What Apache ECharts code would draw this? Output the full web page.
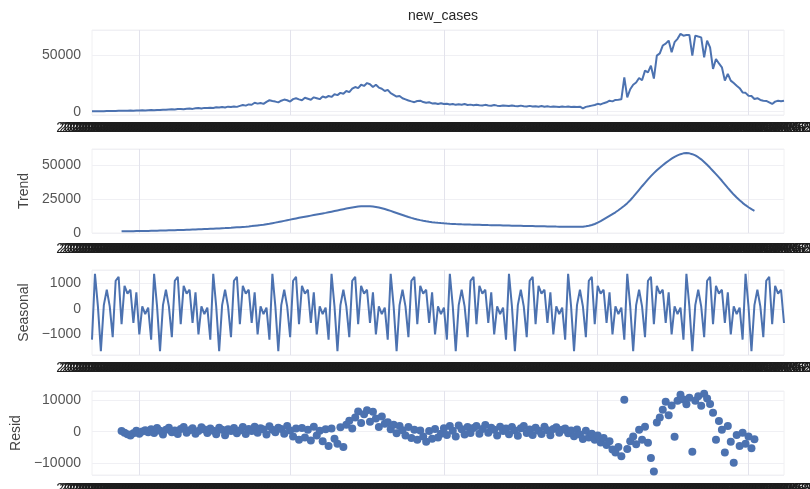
<!DOCTYPE html>
<html><head><meta charset="utf-8">
<script src="https://cdn.jsdelivr.net/npm/echarts@6/dist/echarts.min.js"></script>
<style>html,body{margin:0;padding:0;background:#fff}#c{width:810px;height:489px}</style>
</head><body><div id="c"></div>
<script>
// ---- categories (daily dates) ----
const startDate = '2020-03-01';
const dayCount = 235;
const dates = [];
(function () {
  const s = new Date(startDate + 'T00:00:00Z');
  for (let i = 0; i < dayCount; i++) {
    const d = new Date(s.getTime() + i * 86400000);
    dates.push(d.toISOString().slice(0, 10));
  }
})();

// vertical grid lines at these category positions
const gridTickIndex = [16, 67, 119, 171, 222];

// ---- observed ----
const observed = [
  300, 400, 350, 500, 450, 600, 550, 700, 650, 800,
  850, 900, 800, 1000, 950, 1100, 1050, 1200, 1150, 1300,
  1400, 1350, 1600, 1500, 1800, 1700, 1900, 2100, 2000, 2300,
  2400, 2200, 2600, 2800, 2500, 3000, 3300, 2900, 3400, 3200,
  3600, 3300, 3900, 3700, 4200, 3800, 4500, 4100, 4700, 4300,
  5200, 6000, 5400, 6500, 6200, 8000, 7200, 7800, 7000, 8800,
  10200, 9500, 9000, 8300, 9800, 10800, 10200, 9000, 11200, 12000,
  11000, 10200, 12400, 11500, 10600, 12800, 12000, 11200, 13500, 12600,
  14000, 13200, 15500, 14800, 16800, 16000, 18500, 17500, 20500, 22000,
  21000, 24000, 23000, 25500, 24500, 22000, 24000, 21500, 20500, 18500,
  19500, 16500, 15000, 13500, 14000, 12000, 11000, 10000, 9200, 8500,
  9500, 9800, 8600, 8000, 8400, 7400, 7600, 6900, 7500, 6800,
  7000, 6400, 6900, 6100, 6600, 6200, 6800, 6000, 6300, 5800,
  6200, 5800, 5500, 6100, 5600, 5300, 5900, 5400, 5100, 5600,
  5300, 5000, 5600, 5100, 4800, 5400, 4900, 4600, 5200, 4700,
  4900, 4500, 5000, 4400, 4800, 4300, 4700, 4500, 4200, 4600,
  4300, 4600, 4100, 4400, 4200, 4500, 2900, 4300, 4800, 5400,
  6000, 7000, 6500, 7600, 8400, 9800, 9200, 10500, 10700, 11000,
  30500, 12800, 20000, 24000, 26000, 30000, 28000, 36600, 35000, 41000,
  29500, 50000, 52000, 59000, 60700, 63400, 53000, 62000, 65000, 69400,
  67800, 68300, 68500, 50000, 67800, 67000, 66300, 48500, 63400, 57400,
  38100, 47000, 43000, 39600, 27700, 33700, 27700, 25500, 23200, 21000,
  17200, 16800, 14300, 14000, 11300, 12000, 10500, 9800, 9600, 8300,
  6900, 9000, 9800, 9300, 9800
];

// ---- trend ----
const trend = [
  null, null, null, null, null, null, null, null, null, null,
  1200, 1230, 1260, 1300, 1340, 1380, 1420, 1460, 1500, 1550,
  1600, 1650, 1700, 1760, 1820, 1880, 1940, 2000, 2070, 2140,
  2210, 2280, 2360, 2440, 2520, 2600, 2690, 2780, 2870, 2960,
  3060, 3160, 3270, 3380, 3500, 3620, 3750, 3880, 4020, 4160,
  4300, 4480, 4660, 4850, 5050, 5300, 5550, 5800, 6100, 6450,
  6800, 7200, 7600, 8000, 8450, 8900, 9350, 9800, 10250, 10700,
  11150, 11550, 11950, 12350, 12750, 13150, 13550, 13950, 14350, 14750,
  15200, 15650, 16100, 16550, 17000, 17450, 17900, 18300, 18700, 19050,
  19350, 19550, 19650, 19650, 19550, 19350, 19050, 18650, 18150, 17550,
  16900, 16200, 15450, 14700, 13950, 13200, 12450, 11750, 11100, 10500,
  9950, 9450, 9000, 8600, 8250, 7950, 7700, 7480, 7280, 7100,
  6940, 6800, 6680, 6570, 6470, 6380, 6300, 6230, 6160, 6100,
  6040, 5980, 5920, 5860, 5800, 5750, 5700, 5650, 5600, 5550,
  5500, 5450, 5400, 5350, 5300, 5250, 5200, 5150, 5100, 5050,
  5000, 4950, 4900, 4860, 4820, 4780, 4740, 4700, 4670, 4640,
  4610, 4580, 4550, 4530, 4510, 4500, 4650, 4900, 5300, 5850,
  6600, 7600, 8700, 10000, 11300, 12600, 13900, 15200, 16700, 18300,
  20000, 21900, 24000, 26500, 29100, 31700, 34300, 36800, 39300, 41700,
  43900, 46000, 47900, 49700, 51400, 53000, 54500, 55800, 56900, 57800,
  58400, 58600, 58400, 57800, 56900, 55600, 54000, 52100, 50000, 47800,
  45500, 43200, 40800, 38300, 35700, 33100, 30600, 28200, 26000, 24000,
  22100, 20400, 18900, 17500, 16300, null, null, null, null, null,
  null, null, null, null, null
];

// ---- seasonal ----
const seasonal = [
  -1200, 1370, 100, -1650, 150, 750, 100, -1100, 1100, 1250, -600, 900, 600, 750, -550, 650, -1000, 100, -200, 50,
  -1200, 1370, 100, -1650, 150, 750, 100, -1100, 1100, 1250, -600, 900, 600, 750, -550, 650, -1000, 100, -200, 50,
  -1200, 1370, 100, -1650, 150, 750, 100, -1100, 1100, 1250, -600, 900, 600, 750, -550, 650, -1000, 100, -200, 50,
  -1200, 1370, 100, -1650, 150, 750, 100, -1100, 1100, 1250, -600, 900, 600, 750, -550, 650, -1000, 100, -200, 50,
  -1200, 1370, 100, -1650, 150, 750, 100, -1100, 1100, 1250, -600, 900, 600, 750, -550, 650, -1000, 100, -200, 50,
  -1200, 1370, 100, -1650, 150, 750, 100, -1100, 1100, 1250, -600, 900, 600, 750, -550, 650, -1000, 100, -200, 50,
  -1200, 1370, 100, -1650, 150, 750, 100, -1100, 1100, 1250, -600, 900, 600, 750, -550, 650, -1000, 100, -200, 50,
  -1200, 1370, 100, -1650, 150, 750, 100, -1100, 1100, 1250, -600, 900, 600, 750, -550, 650, -1000, 100, -200, 50,
  -1200, 1370, 100, -1650, 150, 750, 100, -1100, 1100, 1250, -600, 900, 600, 750, -550, 650, -1000, 100, -200, 50,
  -1200, 1370, 100, -1650, 150, 750, 100, -1100, 1100, 1250, -600, 900, 600, 750, -550, 650, -1000, 100, -200, 50,
  -1200, 1370, 100, -1650, 150, 750, 100, -1100, 1100, 1250, -600, 900, 600, 750, -550, 650, -1000, 100, -200, 50,
  -1200, 1370, 100, -1650, 150, 750, 100, -1100, 1100, 1250, -600, 900, 600, 750, -550
];

// ---- residual ----
const resid = [
  null, null, null, null, null, null, null, null, null, null,
  200, -300, -800, -1200, -500, 300, -600, 100, 500, -200,
  800, -400, 1200, 300, -900, 600, 1300, -200, 400, -700,
  900, 1500, -300, 500, 1100, -600, 200, 1400, 700, -400,
  1000, 300, -800, 1300, 600, -1100, 800, 200, 1200, -500,
  400, 1500, -700, 900, 200, 1600, -300, 1100, 700, -900,
  1700, 600, -200, 1300, 900, -600, 1800, 400, -1500, 1000,
  -2500, 1200, -1800, 600, -2800, 1600, -1200, 300, -3000, 800,
  -4500, 1000, -2200, -3800, 1400, -4800, 2200, 3500, 1000, 4500,
  6400, 2800, 5500, 6800, 3200, 6300, 4200, 1500, 4800, 2500,
  3000, 800, 2200, -500, 1800, 500, -1200, 1500, -2000, 600,
  -2500, 400, -1500, -3200, 200, -2200, 900, -1800, -600, 1100,
  -1000, 1800, 300, -1500, 2000, 800, -900, 1500, -400, 1200,
  1800, -600, 900, 2100, -300, 1300, 600, -1200, 1600, 200,
  1000, -800, 1500, 400, -1300, 1100, 1800, -400, 700, -1000,
  1300, 300, -700, 1600, 500, -1100, 900, 1400, -300, 600,
  1000, -500, 400, -1400, 700, -900, -2300, 300, -1800, -600,
  -2500, -1200, -3400, -2000, -4200, -3000, -5600, -6600, -4800, -7800,
  10100, -5500, -3000, -1500, -4000, 600, -2500, 1600, -3500, -8300,
  -12600, 2900, 4500, 7000, 9500, 5200, 8300, -1600, 9800, 11700,
  10200, 8700, 10800, -6300, 9800, 11200, 8200, 12000, 10500, 8800,
  6000, -2500, 3400, 600, -6600, 1800, -3200, -9800, -1000, -4500,
  -300, -3800, -1500, -5200, -2400, null, null, null, null, null,
  null, null, null, null, null
];

// ---- axis text ----
const panelNames = ['', 'Trend', 'Seasonal', 'Resid'];
const panelTitle = 'new_cases';

const BLUE = '#4c72b0';
const FONT = 'Liberation Sans, Arial, Helvetica, sans-serif';
const gridTops = [30, 149, 270, 391];
const gridHeights = [85, 84, 85, 84];
const labelMargins = [6, 9, 6, 7];
const nameGaps = [60, 61, 60, 68];
const yCfg = [
  { min: -2950, max: 72850, splitNumber: 1.5, showMin: false },
  { min: 0, max: 61600, interval: 25000, showMin: true },
  { min: -1800, max: 1520, splitNumber: 3, showMin: false },
  { min: -13700, max: 12900, splitNumber: 3, showMin: false }
];
const fmt = v => String(v).replace('-', '\u2212');

const grids = [], xAxes = [], yAxes = [];
for (let i = 0; i < 4; i++) {
  grids.push({ left: 92, width: 692, top: gridTops[i], height: gridHeights[i],
    show: true, borderColor: '#f0f0f2', borderWidth: 1, containLabel: false, outerBoundsMode: 'none' });
  xAxes.push({
    type: 'category', gridIndex: i, data: dates, boundaryGap: false,
    axisLine: { show: false }, axisTick: { show: false },
    axisLabel: { interval: 0, color: '#1e1e1e', fontSize: 14, fontFamily: FONT, margin: labelMargins[i], hideOverlap: false },
    splitLine: { show: true, interval: idx => gridTickIndex.indexOf(idx) >= 0, lineStyle: { color: '#e3e3ec', width: 1 } }
  });
  const c = yCfg[i];
  const y = {
    type: 'value', gridIndex: i, min: c.min, max: c.max, scale: false,
    axisLine: { show: false }, axisTick: { show: false },
    axisLabel: { color: '#555', fontSize: 14, fontFamily: FONT, margin: 11,
      showMinLabel: c.showMin, showMaxLabel: false, formatter: fmt },
    splitLine: { show: true, lineStyle: { color: '#f0f0f4', width: 1 } },
    name: panelNames[i], nameLocation: 'middle', nameRotate: 90, nameGap: nameGaps[i],
    nameTextStyle: { color: '#444', fontSize: 14, fontFamily: FONT }
  };
  if (c.interval) y.interval = c.interval; else y.splitNumber = c.splitNumber;
  yAxes.push(y);
}

const lineStyle = { color: BLUE, width: 2 };
const chart = echarts.init(document.getElementById('c'), null, { renderer: 'canvas' });
chart.setOption({
  backgroundColor: '#fff',
  animation: false,
  title: { text: panelTitle, left: 438, top: 4, textAlign: 'center',
    textStyle: { fontSize: 14, fontWeight: 'normal', color: '#262626', fontFamily: FONT } },
  grid: grids, xAxis: xAxes, yAxis: yAxes,
  series: [
    { type: 'line', xAxisIndex: 0, yAxisIndex: 0, data: observed, symbol: 'none', lineStyle, itemStyle: { color: BLUE } },
    { type: 'line', xAxisIndex: 1, yAxisIndex: 1, data: trend, symbol: 'none', connectNulls: false, lineStyle, itemStyle: { color: BLUE } },
    { type: 'line', xAxisIndex: 2, yAxisIndex: 2, data: seasonal, symbol: 'none', lineStyle, itemStyle: { color: BLUE } },
    { type: 'scatter', xAxisIndex: 3, yAxisIndex: 3, data: resid.map(v => v === null ? '-' : v), symbolSize: 8,
      itemStyle: { color: BLUE, opacity: 1, borderWidth: 0 } }
  ]
});
</script>
</body></html>
